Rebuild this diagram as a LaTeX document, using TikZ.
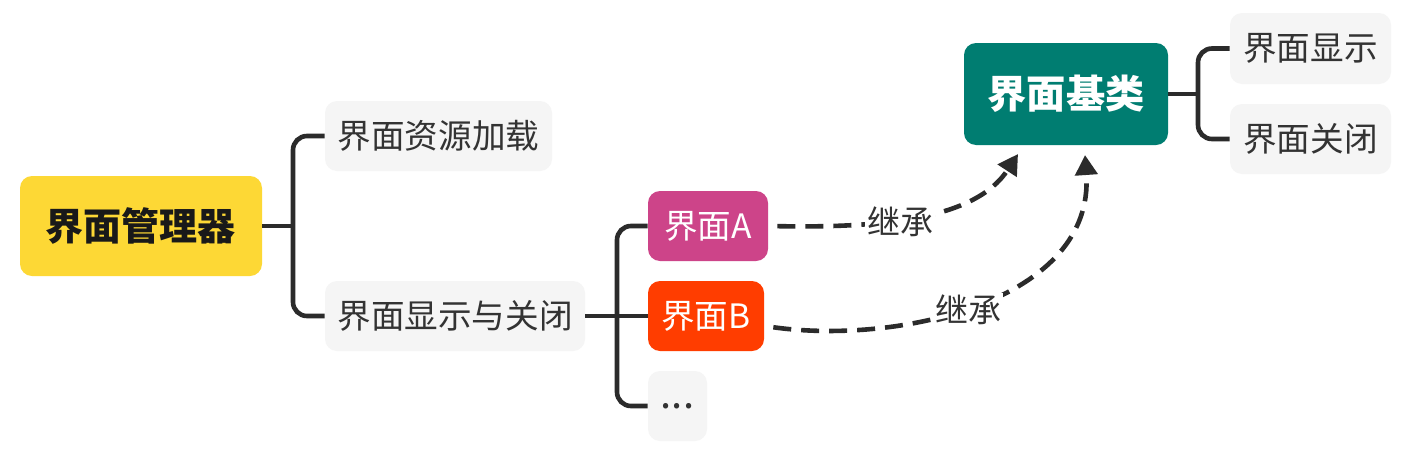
\documentclass[tikz,border=0pt]{standalone}
\usepackage{fontspec}
\setmainfont{Noto Sans CJK SC}
\usetikzlibrary{arrows.meta,calc}
\definecolor{rootc}{HTML}{FDD835}
\definecolor{leafc}{HTML}{F5F5F5}
\definecolor{txtc}{HTML}{333333}
\definecolor{linec}{HTML}{2B2B2B}
\definecolor{ac}{HTML}{CD4489}
\definecolor{bc}{HTML}{FF3D00}
\definecolor{basec}{HTML}{007D71}
\tikzset{
  box/.style={rounded corners=6pt, inner sep=0pt, align=center},
  leaf/.style={box, fill=leafc, text=txtc, font=\fontsize{16.8pt}{18pt}\selectfont},
  conn/.style={draw=linec, line width=2.3pt, rounded corners=7pt},
  inh/.style={draw=linec, line width=2.3pt, dash pattern=on 9pt off 5pt, -{Triangle[length=10pt,width=11pt]}},
  lbl/.style={fill=white, inner sep=1pt, text=txtc, font=\fontsize{16.5pt}{18pt}\selectfont}
}
\begin{document}
\begin{tikzpicture}[x=0.5pt,y=-0.5pt]
\useasboundingbox[fill=white] (0,0) rectangle (1403,450);
% nodes
\node[box, fill=rootc, text=black!90, minimum width=121pt, minimum height=50pt, font=\fontsize{19pt}{21pt}\selectfont\bfseries] (root) at (141,226) {界面管理器};
\node[leaf, minimum width=113.5pt, minimum height=35pt] (res) at (438.5,136) {界面资源加载};
\node[leaf, minimum width=130pt, minimum height=35pt] (show) at (455,316) {界面显示与关闭};
\node[box, fill=ac, text=white, minimum width=60pt, minimum height=35pt, font=\fontsize{16.8pt}{18pt}\selectfont] (A) at (708,226) {界面A};
\node[box, fill=bc, text=white, minimum width=58pt, minimum height=35pt, font=\fontsize{16.8pt}{18pt}\selectfont] (B) at (706,316) {界面B};
\node[leaf, minimum width=29.5pt, minimum height=35pt, font=\fontsize{20pt}{22pt}\selectfont] (etc) at (677.5,406) {...};
\node[box, fill=basec, text=white, minimum width=102pt, minimum height=51pt, font=\fontsize{19.6pt}{21pt}\selectfont\bfseries] (base) at (1066,94) {界面基类};
\node[leaf, minimum width=80.5pt, minimum height=35.5pt] (bshow) at (1310.5,48.5) {界面显示};
\node[leaf, minimum width=80.5pt, minimum height=35pt] (bclose) at (1310.5,139) {界面关闭};
% junctions
\coordinate (j1) at (293,226);
\coordinate (j2) at (617,316);
\coordinate (j3) at (1198,94);
\draw[conn] (root.east) -- (j1);
\draw[conn] (res.west) -- (j1 |- res.west) -- (j1 |- show.west) -- (show.west);
\draw[conn] (show.east) -- (B.west);
\draw[conn] (A.west) -- (j2 |- A.west) -- (j2 |- etc.west) -- (etc.west);
\draw[conn] (base.east) -- (j3);
\draw[conn] (bshow.west) -- (j3 |- bshow.west) -- (j3 |- bclose.west) -- (bclose.west);
% inheritance
\coordinate (ta) at (1018,154);
\coordinate (tb) at (1085,155);
\draw[inh, shorten <=4.5pt] (A.east) .. controls (880,228) and (975,220) .. (ta);
\node[lbl] (la) at (900,222) {继承};
\draw[inh, shorten <=4.5pt] ($(B.east)+(0,10)$) .. controls (900,345) and (1095,300) .. (tb);
\node[lbl] (lb) at (968,310) {继承};
\end{tikzpicture}
\end{document}
